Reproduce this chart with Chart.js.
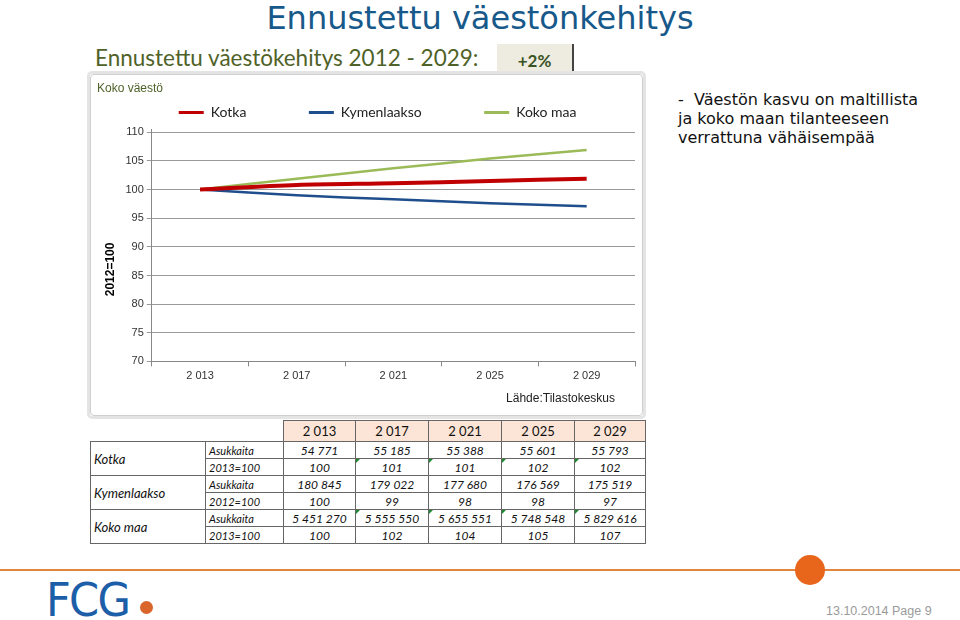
<!DOCTYPE html>
<html>
<head>
<meta charset="utf-8">
<script src="https://cdn.jsdelivr.net/npm/chart.js@4.4.1/dist/chart.umd.min.js"></script>
<style>
  html, body { margin: 0; padding: 0; background: #fff; }
  body { width: 960px; height: 620px; position: relative; overflow: hidden; font-family: "DejaVu Sans", sans-serif; }
  .title { position: absolute; left: 0; width: 960px; top: 0; text-align: center; font-size: 32px; color: #17598A; line-height: 36px; }
  .subhead { position: absolute; left: 95px; top: 43px; font-family: Lato, sans-serif; font-size: 22.5px; color: #4F6228; line-height: 30px; }
  .badge { position: absolute; left: 497px; top: 44px; width: 77px; height: 29px; background: #EEECE1; border-right: 2px solid #444; border-bottom: 1px solid #888;
           font-family: Lato, sans-serif; font-weight: bold; font-size: 17px; color: #3B5323; text-align: center; line-height: 33px; box-sizing: border-box; }
  .frame { position: absolute; left: 87px; top: 71px; width: 559px; height: 348px; box-sizing: border-box; border: 3px solid #e4e4e4; border-radius: 5px; background: #fff; }
  .frame .inner { position: absolute; left: 0; top: 0; right: 0; bottom: 0; border: 1px solid #cfcfcf; border-radius: 4px; }
  #chartWrap { position: absolute; left: 91px; top: 75px; width: 551px; height: 340px; }
  .bullet { position: absolute; left: 678px; top: 90px; font-size: 16px; line-height: 19px; color: #111; white-space: pre; }
  table.data { position: absolute; left: 90px; top: 420px; border-collapse: collapse; font-family: Lato, sans-serif; font-size: 12px; color: #111; }
  table.data td { border: 1px solid #666; height: 16px; padding: 0; text-align: center; font-style: italic; position: relative; }
  table.data td.h { background: #FCE4D6; font-style: normal; font-size: 13px; height: 20px; }
  table.data td.blank { border: none; border-bottom: 1px solid #666; }
  table.data td.grp { text-align: left; padding-left: 3px; font-size: 13px; }
  table.data td.sub { text-align: left; padding-left: 3px; font-size: 11px; }
  table.data td.tri::before { content: ""; position: absolute; left: 0; top: 0; border-top: 4px solid #1E8A2E; border-right: 4px solid transparent; }
  .rule { position: absolute; left: 0; top: 569px; width: 960px; height: 2px; background: #E2863F; }
  .dot { position: absolute; left: 795px; top: 555px; width: 30px; height: 30px; border-radius: 50%; background: #E8651C; }
  .logo { position: absolute; left: 46px; top: 572px; font-family: "DejaVu Sans", sans-serif; font-size: 47px; color: #1D5EA8; letter-spacing: -2px; line-height: 56px; transform: scaleX(0.92); transform-origin: left; }
  .logodot { position: absolute; left: 140px; top: 601px; width: 13px; height: 13px; border-radius: 50%; background: #D9652A; }
  .foot { position: absolute; left: 826px; top: 604px; font-family: "Liberation Sans", sans-serif; font-size: 12.5px; color: #9a9a9a; }
</style>
</head>
<body>
<div class="title">Ennustettu väestönkehitys</div>
<div class="subhead">Ennustettu väestökehitys 2012 - 2029:</div>
<div class="badge">+2%</div>
<div class="frame"><div class="inner"></div></div>
<div id="chartWrap"><canvas id="popChart"></canvas></div>
<div class="bullet">-  Väestön kasvu on maltillista
ja koko maan tilanteeseen
verrattuna vähäisempää</div>
<table class="data" id="popTable"></table>
<div class="rule"></div>
<div class="dot"></div>
<div class="logo">FCG</div>
<div class="logodot"></div>
<div class="foot">13.10.2014 Page 9</div>

<script>
// Years shown on the axis and in the table header
const years = ['2 013', '2 017', '2 021', '2 025', '2 029'];

// Index lines (2012=100)
const kotkaIndex = [100, 100.8, 101.1, 101.5, 101.9];
const kymenlaaksoIndex = [100, 99.0, 98.3, 97.6, 97.1];
const kokoMaaIndex = [100, 101.9, 103.7, 105.4, 106.9];

// Table values
const kotkaPop = ['54 771', '55 185', '55 388', '55 601', '55 793'];
const kotkaIdxTbl = ['100', '101', '101', '102', '102'];
const kymenPop = ['180 845', '179 022', '177 680', '176 569', '175 519'];
const kymenIdxTbl = ['100', '99', '98', '98', '97'];
const kokoPop = ['5 451 270', '5 555 550', '5 655 551', '5 748 548', '5 829 616'];
const kokoIdxTbl = ['100', '102', '104', '105', '107'];

const yTicks = [70, 75, 80, 85, 90, 95, 100, 105, 110];

function buildTable() {
    const t = document.getElementById('popTable');
    const colW = [115, 78, 72, 73, 73, 73, 71];
    let html = '<colgroup>' + colW.map(w => '<col style="width:' + w + 'px">').join('') + '</colgroup>';
    html += '<tr><td class="blank"></td><td class="blank"></td>' + years.map(y => '<td class="h">' + y + '</td>').join('') + '</tr>';
    const groups = [
        ['Kotka', 'Asukkaita', kotkaPop, [], '2013=100', kotkaIdxTbl, [1, 2, 3, 4]],
        ['Kymenlaakso', 'Asukkaita', kymenPop, [], '2012=100', kymenIdxTbl, []],
        ['Koko maa', 'Asukkaita', kokoPop, [1, 2, 3, 4], '2013=100', kokoIdxTbl, []]
    ];
    groups.forEach(g => {
        html += '<tr><td class="grp" rowspan="2">' + g[0] + '</td><td class="sub">' + g[1] + '</td>' +
            g[2].map((v, i) => '<td' + (g[3].includes(i) ? ' class="tri"' : '') + '>' + v + '</td>').join('') + '</tr>';
        html += '<tr><td class="sub">' + g[4] + '</td>' +
            g[5].map((v, i) => '<td' + (g[6].includes(i) ? ' class="tri"' : '') + '>' + v + '</td>').join('') + '</tr>';
    });
    t.innerHTML = html;
}
buildTable();

const axisFont = { family: 'Liberation Sans', size: 11 };
// extra spacing after legend entries, as in the original Excel legend
const legendGap = ['\u2003\u2003\u2003\u2003\u2003', '\u2003\u2003\u2003\u2003\u2003', '\u2003\u2003\u2003'];

new Chart(document.getElementById('popChart'), {
    type: 'line',
    data: {
        labels: years,
        datasets: [
            { label: 'Kotka', data: kotkaIndex, borderColor: '#C00000', backgroundColor: '#C00000', borderWidth: 4, pointRadius: 0, tension: 0.3 },
            { label: 'Kymenlaakso', data: kymenlaaksoIndex, borderColor: '#1F4E8C', backgroundColor: '#1F4E8C', borderWidth: 2.5, pointRadius: 0, tension: 0.3 },
            { label: 'Koko maa', data: kokoMaaIndex, borderColor: '#9BBB59', backgroundColor: '#9BBB59', borderWidth: 2.5, pointRadius: 0, tension: 0.3 }
        ]
    },
    options: {
        responsive: true,
        maintainAspectRatio: false,
        animation: false,
        layout: { padding: { left: 6, right: 7, top: 0, bottom: 9 } },
        plugins: {
            title: {
                display: true, text: 'Koko väestö', align: 'start', color: '#4F6228',
                font: { family: 'Liberation Sans', size: 12, weight: 'normal' }, padding: { top: 6, bottom: 0 }
            },
            subtitle: {
                display: true, text: 'Lähde:Tilastokeskus\u00a0\u00a0\u00a0\u00a0\u00a0\u00a0', position: 'bottom', align: 'end', color: '#222',
                font: { family: 'Liberation Sans', size: 12 }, padding: { top: 6, bottom: 0 }
            },
            legend: {
                position: 'top',
                fullSize: false,
                labels: {
                    color: '#222', font: { family: 'Lato', size: 14 }, boxWidth: 25, boxHeight: 3, padding: 10,
                    generateLabels: chart => chart.data.datasets.map((ds, i) => ({
                        text: ds.label + legendGap[i],
                        fillStyle: ds.borderColor, strokeStyle: ds.borderColor, lineWidth: 0,
                        fontColor: '#222', datasetIndex: i, hidden: false
                    }))
                }
            },
            tooltip: { enabled: false }
        },
        scales: {
            x: {
                offset: true,
                grid: { offset: true, drawOnChartArea: false, tickLength: 5, color: '#888' },
                border: { color: '#888' },
                ticks: { color: '#333', font: axisFont, padding: 3, maxRotation: 0 }
            },
            y: {
                min: 70, max: 110.5,
                afterBuildTicks: axis => { axis.ticks = yTicks.map(v => ({ value: v })); },
                grid: { color: '#9a9a9a', tickLength: 5 },
                border: { color: '#888' },
                ticks: { color: '#333', font: axisFont, padding: 3 },
                title: {
                    display: true, text: '2012=100\u2003\u2003\u2003\u2003', color: '#000',
                    font: { family: 'Liberation Sans', size: 12, weight: 'bold' }, padding: { top: 6, bottom: 5 }
                }
            }
        }
    }
});
</script>
</body>
</html>
